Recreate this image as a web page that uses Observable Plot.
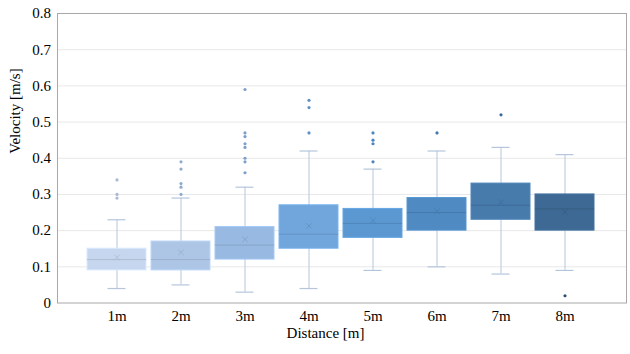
<!DOCTYPE html>
<html><head><meta charset="utf-8">
<script src="https://cdn.jsdelivr.net/npm/d3@7"></script>
<script src="https://cdn.jsdelivr.net/npm/@observablehq/plot@0.6"></script>
<style>body{margin:0;background:#fff}</style>
</head><body><div id="chart"></div>
<script>
const categories = ["1m","2m","3m","4m","5m","6m","7m","8m"];
const q1 = [0.09,0.09,0.12,0.15,0.18,0.20,0.23,0.20];
const q3 = [0.15,0.17,0.21,0.27,0.26,0.29,0.33,0.30];
const median = [0.12,0.12,0.16,0.19,0.22,0.25,0.27,0.26];
const mean = [0.126,0.140,0.176,0.213,0.228,0.253,0.278,0.251];
const whiskerLow = [0.04,0.05,0.03,0.04,0.09,0.10,0.08,0.09];
const whiskerHigh = [0.23,0.29,0.32,0.42,0.37,0.42,0.43,0.41];
const outliers = [
  [0.34,0.30,0.29],
  [0.39,0.37,0.33,0.32,0.30],
  [0.59,0.47,0.46,0.44,0.43,0.40,0.39,0.36],
  [0.56,0.54,0.47],
  [0.47,0.45,0.44,0.39],
  [0.47],
  [0.52],
  [0.02]
];
const yTicks = [0,0.1,0.2,0.3,0.4,0.5,0.6,0.7,0.8];
const boxColors = ["#c6d6ee","#aec6e6","#98b9e1","#71a6dc","#5b98d1","#4f8ac2","#477bab","#3e6994"];
const outlierColors = ["#a9b9d2","#91abcf","#7c9ecc","#5d91cc","#4a86c2","#3f77b0","#39699a","#2f4e72"];

const boxes = categories.map((c,i)=>({cat:c, q1:q1[i], q3:q3[i], median:median[i], mean:mean[i],
  lo:whiskerLow[i], hi:whiskerHigh[i], fill:boxColors[i],
  edge:d3.color(boxColors[i]).brighter(0.25).formatHex(),
  dark:d3.color(boxColors[i]).darker(0.35).formatHex()}));
const outlierRows = categories.flatMap((c,i)=>outliers[i].map(v=>({cat:c, v, color:outlierColors[i]})));

const font = "'Liberation Serif', 'Times New Roman', serif";
const chart = Plot.plot({
  width:630, height:354, marginLeft:57, marginRight:4, marginTop:13, marginBottom:51.5,
  style:{fontFamily:font, fontSize:"15px", color:"#000", background:"#fff"},
  x:{domain:categories, paddingInner:0.085, paddingOuter:0, insetLeft:26.3, insetRight:29},
  y:{domain:[0,0.8]},
  color:{type:"identity"},
  marks:[
    Plot.gridY(yTicks.filter(t=>t>0 && t<0.8), {stroke:"#e8e8e8", strokeOpacity:1}),
    Plot.frame({stroke:"#a8a8a8"}),
    Plot.ruleX(boxes, {x:"cat", y1:"lo", y2:"hi", stroke:"#b5c6dc"}),
    Plot.tickY(boxes, {x:"cat", y:"lo", stroke:"#b5c6dc", insetLeft:20.5, insetRight:20.5, strokeWidth:1.2}),
    Plot.tickY(boxes, {x:"cat", y:"hi", stroke:"#b5c6dc", insetLeft:20.5, insetRight:20.5, strokeWidth:1.2}),
    Plot.barY(boxes, {x:"cat", y1:"q1", y2:"q3", fill:"fill", stroke:"edge", strokeWidth:1}),
    Plot.tickY(boxes, {x:"cat", y:"median", stroke:"dark", strokeWidth:1}),
    Plot.dot(boxes, {x:"cat", y:"mean", symbol:"times", r:2.6, stroke:"dark", strokeWidth:0.9}),
    Plot.dot(outlierRows, {x:"cat", y:"v", r:1.6, fill:"color", stroke:null}),
    Plot.axisY({ticks:yTicks, tickSize:0, tickPadding:6.5, tickFormat:d=>d===0?"0":d.toFixed(1), label:null, fontSize:15}),
    Plot.axisX({tickSize:0, tickPadding:7, label:null, fontSize:15}),
    Plot.text(["Velocity [m/s]"], {text:d=>d, frameAnchor:"left", rotate:-90, dx:-42, dy:-4.5, fontSize:15, fontFamily:font, fill:"#000"}),
    Plot.text(["Distance [m]"], {text:d=>d, frameAnchor:"bottom", dx:-16.5, dy:35, fontSize:15, fontFamily:font, fill:"#000"})
  ]
});
document.getElementById("chart").append(chart);
</script>
</body></html>
